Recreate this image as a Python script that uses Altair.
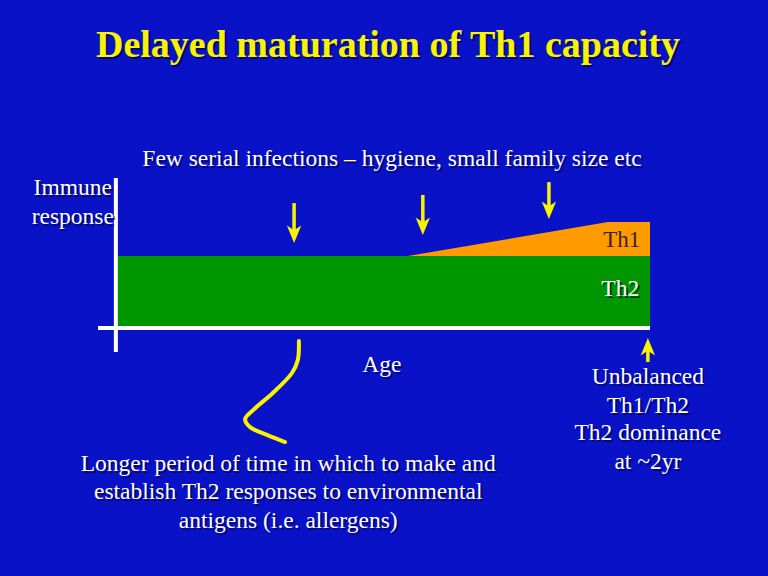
import altair as alt
import pandas as pd

# ---- data (age 0..100 along the axis, response 0..100 up the axis) ----
th2_age = [0, 100]
th2_top = [48, 48]
th1_age = [54.5, 92.1, 100]
th1_top = [48, 70.7, 70.7]
th1_base = [48, 48, 48]

arrow_age = [33.1, 57.3, 81.0]
arrow_top = [83.3, 88.7, 97.3]
arrow_tip = [56.7, 62.0, 72.7]

up_age = [99.6]
up_tip = [-6.7]
up_bottom = [-22.7]

squig_age = [34.0, 33.8, 32.7, 29.1, 25.4, 23.9, 24.8, 28.0, 31.4]
squig_resp = [-8.7, -21.3, -30.0, -43.3, -54.7, -60.7, -66.0, -71.3, -76.0]

labels_text = [
    "Few serial infections \u2013 hygiene, small family size etc",
    "Immune", "response", "Age",
    "Unbalanced", "Th1/Th2", "Th2 dominance", "at ~2yr",
    "Longer period of time in which to make and",
    "establish Th2 responses to environmental",
    "antigens (i.e. allergens)",
    "Th2",
]
labels_x = [51.5, -8.5, -8.5, 49.6, 99.6, 99.6, 99.6, 99.6, 32.0, 32.0, 32.0, 94.4]
labels_y = [112.7, 93.3, 74.0, -24.7, -32.7, -52.0, -70.0, -89.3, -90.7, -109.3, -128.7, 26.0]

title_text = ["Delayed maturation of Th1 capacity"]
title_x = [50.75]
title_y = [188.0]

th1_label = ["Th1"]
th1_lx = [94.7]
th1_ly = [58.7]

BG = "#0a12c8"
GREEN = "#009600"
ORANGE = "#ff9a00"
YELLOW = "#f8f400"
FONT = "Liberation Serif"

xs = alt.Scale(domain=[-22.18, 122.18], nice=False, zero=False)
ys = alt.Scale(domain=[-165.33, 218.67], nice=False, zero=False)


def X(f):
    return alt.X(f, type="quantitative", scale=xs, axis=None)


def Y(f):
    return alt.Y(f, type="quantitative", scale=ys, axis=None)


th2_df = pd.DataFrame({"age": th2_age, "top": th2_top, "base": [0, 0]})
th1_df = pd.DataFrame({"age": th1_age, "top": th1_top, "base": th1_base})

th2 = alt.Chart(th2_df).mark_area(color=GREEN).encode(x=X("age"), y=Y("top"), y2="base")
th1 = alt.Chart(th1_df).mark_area(color=ORANGE).encode(x=X("age"), y=Y("top"), y2="base")

axes_df = pd.DataFrame({"x": [-0.4, -3.76], "y": [100, 0], "x2": [-0.4, 100], "y2": [-16, 0]})
axes = alt.Chart(axes_df).mark_rule(color="white", strokeWidth=4).encode(
    x=X("x"), y=Y("y"), x2="x2", y2="y2")

arr_df = pd.DataFrame({"age": arrow_age, "top": arrow_top, "tip": arrow_tip})
arr_df["shaft_end"] = arr_df["tip"] + 6
shafts = alt.Chart(arr_df).mark_rule(color=YELLOW, strokeWidth=3.5).encode(
    x=X("age"), y=Y("top"), y2="shaft_end")
heads = alt.Chart(arr_df).mark_point(
    shape="M0,0 L-0.7,-1.7 L0,-1.25 L0.7,-1.7 Z", filled=True, color=YELLOW, size=420, opacity=1
).encode(x=X("age"), y=Y("tip"))

up_df = pd.DataFrame({"age": up_age, "tip": up_tip, "bottom": up_bottom})
up_df["shaft_end"] = up_df["tip"] - 6
up_shaft = alt.Chart(up_df).mark_rule(color=YELLOW, strokeWidth=3.5).encode(
    x=X("age"), y=Y("bottom"), y2="shaft_end")
up_head = alt.Chart(up_df).mark_point(
    shape="M0,0 L-0.7,1.7 L0,1.25 L0.7,1.7 Z", filled=True, color=YELLOW, size=420, opacity=1
).encode(x=X("age"), y=Y("tip"))

sq_df = pd.DataFrame({"age": squig_age, "resp": squig_resp, "o": list(range(len(squig_age)))})
squig = alt.Chart(sq_df).mark_line(
    color=YELLOW, strokeWidth=4, interpolate="catmull-rom", strokeCap="round"
).encode(x=X("age"), y=Y("resp"), order="o:Q")

lab_df = pd.DataFrame({"x": labels_x, "y": labels_y, "t": labels_text})
title_df = pd.DataFrame({"x": title_x, "y": title_y, "t": title_text})
th1l_df = pd.DataFrame({"x": th1_lx, "y": th1_ly, "t": th1_label})


def text_layer(df, size, color, weight="normal", shadow=False):
    kw = dict(font=FONT, fontSize=size, fontWeight=weight, align="center", baseline="middle")
    if shadow:
        kw.update(color="#000030", opacity=0.6, dx=2, dy=2)
    else:
        kw.update(color=color)
    return alt.Chart(df).mark_text(**kw).encode(x=X("x"), y=Y("y"), text="t:N")


layers = [
    th2, th1, axes, shafts, heads, up_shaft, up_head, squig,
    text_layer(title_df, 38, YELLOW, "bold", True),
    text_layer(title_df, 38, YELLOW, "bold"),
    text_layer(lab_df, 23.5, "white", shadow=True),
    text_layer(lab_df, 23.5, "white"),
    text_layer(th1l_df, 23, "#3a2400"),
]

chart = alt.layer(*layers).properties(
    width=768, height=576, background=BG, padding=0,
    autosize=alt.AutoSizeParams(type="none"),
).configure_view(stroke=None)

chart.save("out.html", embed_options={"renderer": "svg", "actions": False})
